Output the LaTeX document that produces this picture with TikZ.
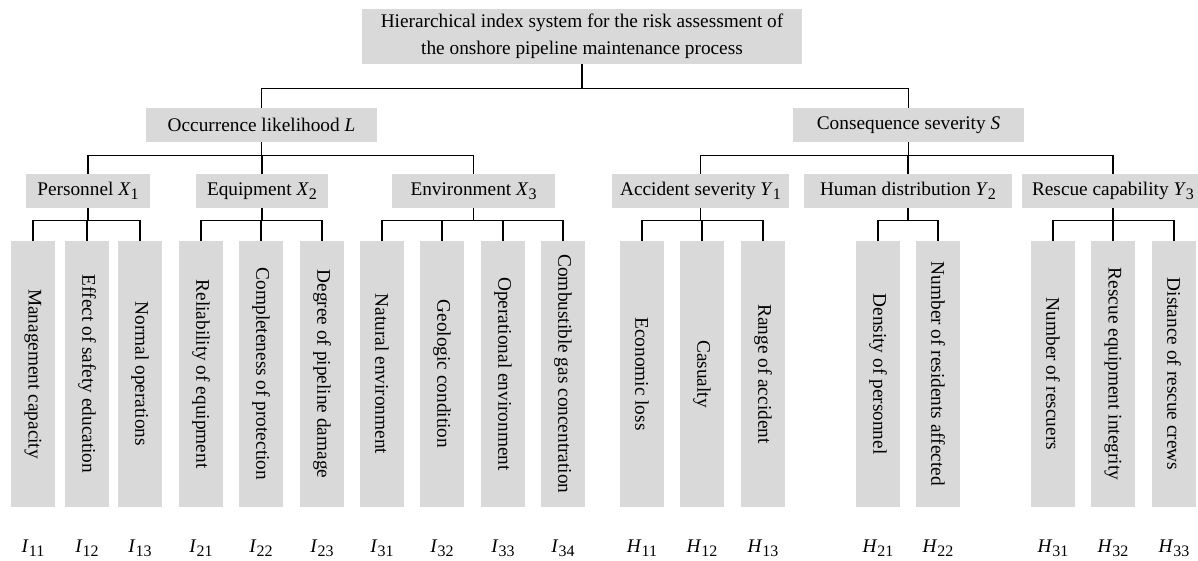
\documentclass[tikz,border=0pt]{standalone}
\usepackage{fontspec}
\setmainfont{Liberation Serif}
\definecolor{boxgray}{RGB}{217,217,217}
\newcommand\myidx[2]{\textit{#1}\raisebox{-0.22em}{\fontsize{16}{16}\selectfont #2}}
\begin{document}
\begin{tikzpicture}[x=1pt,y=-1pt,
  every node/.style={font=\fontsize{19.3}{27}\selectfont},
  box/.style={fill=boxgray, inner sep=0pt, align=center, minimum height=34pt},
  leafbox/.style={fill=boxgray, inner sep=0pt, minimum width=44pt, minimum height=266pt},
  leaftext/.style={rotate=-90, inner sep=0pt},
  idxlabel/.style={inner sep=0pt},
  conn/.style={line width=1.25pt, black}]
\useasboundingbox (0,0) rectangle (1198,561);
% root
\node[box, minimum width=440pt, minimum height=55pt] (root) at (582,36.5)
  {Hierarchical index system for the risk assessment of\\the onshore pipeline maintenance process};
% level 1
\node[box, minimum width=231pt] (L) at (261.5,125) {Occurrence likelihood \textit{L}};
\node[box, minimum width=231pt] (S) at (908.5,125) {Consequence severity \textit{S}};
% level 2
\node[box, minimum width=124pt] (X1) at (88,191) {Personnel \myidx{X}{1}};
\node[box, minimum width=132pt] (X2) at (262,191) {Equipment \myidx{X}{2}};
\node[box, minimum width=163pt] (X3) at (473.5,191) {Environment \myidx{X}{3}};
\node[box, minimum width=177pt] (Y1) at (700.5,191) {Accident severity \myidx{Y}{1}};
\node[box, minimum width=208pt] (Y2) at (908,191) {Human distribution \myidx{Y}{2}};
\node[box, minimum width=182pt] (Y3) at (1113,191) {Rescue capability \myidx{Y}{3}};
% leaves
\foreach \n/\x/\t/\a/\b in {
  I11/33/Management capacity/I/11,
  I12/87/Effect of safety education/I/12,
  I13/140/Normal operations/I/13,
  I21/201/Reliability of equipment/I/21,
  I22/261/Completeness of protection/I/22,
  I23/322/Degree of pipeline damage/I/23,
  I31/382/Natural environment/I/31,
  I32/442/Geologic condition/I/32,
  I33/503/Operational environment/I/33,
  I34/563/Combustible gas concentration/I/34,
  H11/642/Economic loss/H/11,
  H12/702/Casualty/H/12,
  H13/763/Range of accident/H/13,
  H21/878/Density of personnel/H/21,
  H22/938/Number of residents affected/H/22,
  H31/1053/Number of rescuers/H/31,
  H32/1113/Rescue equipment integrity/H/32,
  H33/1174/Distance of rescue crews/H/33}{
  \node[leafbox] (\n) at (\x,374) {};
  \node[leaftext] (\n t) at (\n.center) {\t};
  \node[idxlabel] (\n l) at (\x,548) {\myidx{\a}{\b}};
}
% connectors
\foreach \c in {L,S} \draw[conn] (root.south) -- ++(0,24) -| (\c.north);
\foreach \c in {X1,X2,X3} \draw[conn] (L.south) -- ++(0,13) -| (\c.north);
\foreach \c in {Y1,Y2,Y3} \draw[conn] (S.south) -- ++(0,13) -| (\c.north);
\foreach \c in {I11,I12,I13} \draw[conn] (X1.south) -- ++(0,12) -| (\c.north);
\foreach \c in {I21,I22,I23} \draw[conn] (X2.south) -- ++(0,12) -| (\c.north);
\foreach \c in {I31,I32,I33,I34} \draw[conn] (X3.south) -- ++(0,12) -| (\c.north);
\foreach \c in {H11,H12,H13} \draw[conn] (Y1.south) -- ++(0,12) -| (\c.north);
\foreach \c in {H21,H22} \draw[conn] (Y2.south) -- ++(0,12) -| (\c.north);
\foreach \c in {H31,H32,H33} \draw[conn] (Y3.south) -- ++(0,12) -| (\c.north);
\end{tikzpicture}
\end{document}
